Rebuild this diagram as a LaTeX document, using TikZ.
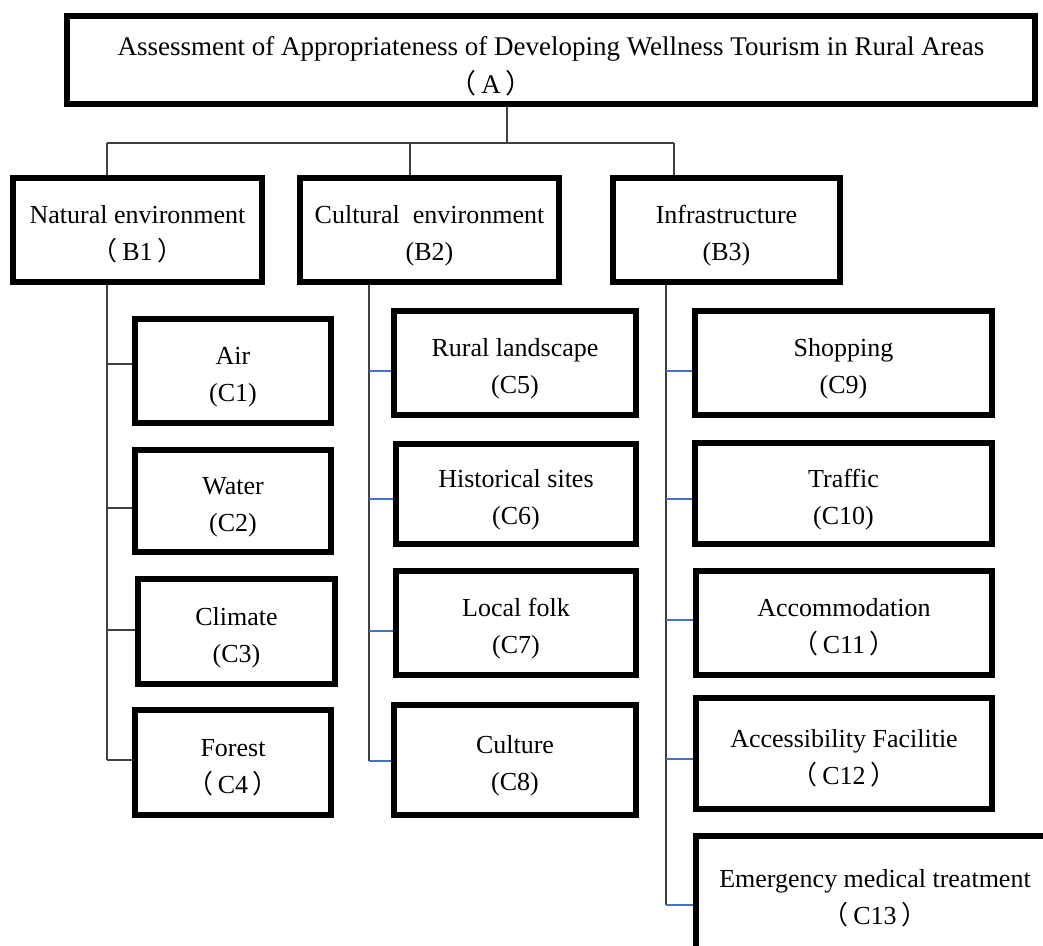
\documentclass[tikz,border=0pt]{standalone}
\usepackage{fontspec}
\setmainfont{Liberation Serif}
\newfontfamily\cjkfont{Noto Sans CJK SC}
\newcommand{\fwl}{{\cjkfont （}\hspace{0.18em}}
\newcommand{\fwr}{\hspace{0.18em}{\cjkfont ）}}
\newcommand{\toprow}[1]{\rule{0pt}{32pt}#1}
\newcommand{\botrow}[1]{#1\rule[-8pt]{0pt}{8pt}}
\definecolor{linkblue}{RGB}{68,114,196}
\begin{document}
\begin{tikzpicture}[x=1pt,y=-1pt,
  box/.style={draw=black, line width=6pt, inner sep=0pt, align=center,
              font=\fontsize{26}{37}\selectfont},
  conn/.style={draw=black!75, line width=1.3pt},
  bconn/.style={draw=linkblue, line width=1.2pt}]
\useasboundingbox (0,0) rectangle (1043,945);
\clip (0,0) rectangle (1043,945);
\fill[white] (0,0) rectangle (1043,945);

% top
\node[box, minimum width=968, minimum height=88, font=\fontsize{27}{38}\selectfont] (A) at (551,60)
  {\rule{0pt}{37pt}Assessment of Appropriateness of Developing Wellness Tourism in Rural Areas\\\botrow{\hspace*{-120pt}\fwl A\fwr}};

% level B
\node[box, minimum width=249, minimum height=104] (B1) at (137.5,230) {\toprow{Natural environment}\\\botrow{\fwl B1\fwr}};
\node[box, minimum width=259, minimum height=104] (B2) at (429.5,230) {\toprow{Cultural\ \ environment}\\\botrow{(B2)}};
\node[box, minimum width=227, minimum height=104] (B3) at (726.5,230) {\toprow{Infrastructure}\\\botrow{(B3)}};

% level C, column 1
\node[box, minimum width=196, minimum height=104] (C1) at (233,371) {\toprow{Air}\\\botrow{(C1)}};
\node[box, minimum width=196, minimum height=102] (C2) at (233,501) {\toprow{Water}\\\botrow{(C2)}};
\node[box, minimum width=197, minimum height=105] (C3) at (236.5,631.5) {\toprow{Climate}\\\botrow{(C3)}};
\node[box, minimum width=196, minimum height=105] (C4) at (233,762.5) {\toprow{Forest}\\\botrow{\fwl C4\fwr}};

% column 2
\node[box, minimum width=242, minimum height=104] (C5) at (515,363) {\toprow{Rural landscape}\\\botrow{(C5)}};
\node[box, minimum width=240, minimum height=100] (C6) at (516,494) {\toprow{Historical sites}\\\botrow{(C6)}};
\node[box, minimum width=240, minimum height=104] (C7) at (516,623) {\toprow{Local folk}\\\botrow{(C7)}};
\node[box, minimum width=242, minimum height=110] (C8) at (515,760) {\toprow{Culture}\\\botrow{(C8)}};

% column 3
\node[box, minimum width=297, minimum height=104] (C9) at (843.5,363) {\toprow{Shopping}\\\botrow{(C9)}};
\node[box, minimum width=297, minimum height=101] (C10) at (843.5,493.5) {\toprow{Traffic}\\\botrow{(C10)}};
\node[box, minimum width=296, minimum height=104] (C11) at (844,623) {\toprow{Accommodation}\\\botrow{\fwl C11\fwr}};
\node[box, minimum width=296, minimum height=111] (C12) at (844,753.5) {\toprow{Accessibility Facilitie}\\\botrow{\fwl C12\fwr}};
\node[box, minimum width=358, minimum height=116] (C13) at (875,894) {\toprow{Emergency medical treatment}\\\botrow{\fwl C13\fwr}};

% top connectors
\coordinate (hub) at (507,143);
\coordinate (j1) at (107,143);
\coordinate (j2) at (410,143);
\coordinate (j3) at (674,143);
\draw[conn] (A.south -| hub) -- (hub);
\draw[conn] (j1) -- (j3);
\draw[conn] (j1) -- (B1.north -| j1);
\draw[conn] (j2) -- (B2.north -| j2);
\draw[conn] (j3) -- (B3.north -| j3);

% spines
\coordinate (s1) at (107,285);
\coordinate (s2) at (369,285);
\coordinate (s3) at (666,285);

% branch end points
\coordinate (e1) at ([yshift=7pt]C1.west);
\coordinate (e2) at ([yshift=-7pt]C2.west);
\coordinate (e3) at ([yshift=1.5pt]C3.west);
\coordinate (e4) at ([yshift=2.5pt]C4.west);
\coordinate (e5) at ([yshift=-8pt]C5.west);
\coordinate (e6) at ([yshift=-5pt]C6.west);
\coordinate (e7) at ([yshift=-8pt]C7.west);
\coordinate (e8) at ([yshift=-1pt]C8.west);
\coordinate (e9) at ([yshift=-8pt]C9.west);
\coordinate (e10) at ([yshift=-5.5pt]C10.west);
\coordinate (e11) at ([yshift=3pt]C11.west);
\coordinate (e12) at ([yshift=-5.5pt]C12.west);
\coordinate (e13) at ([yshift=-11pt]C13.west);

% B1 spine and branches
\draw[conn] (B1.south -| s1) -- (s1 |- e4);
\foreach \e in {e1,e2,e3,e4} \draw[conn] (s1 |- \e) -- (\e);

% B2 spine and branches
\draw[conn] (B2.south -| s2) -- (s2 |- e8);
\foreach \e in {e5,e6,e7,e8} \draw[bconn] (s2 |- \e) -- (\e);

% B3 spine and branches
\draw[conn] (B3.south -| s3) -- (s3 |- e13);
\foreach \e in {e9,e10,e11,e12,e13} \draw[bconn] (s3 |- \e) -- (\e);
\end{tikzpicture}
\end{document}
